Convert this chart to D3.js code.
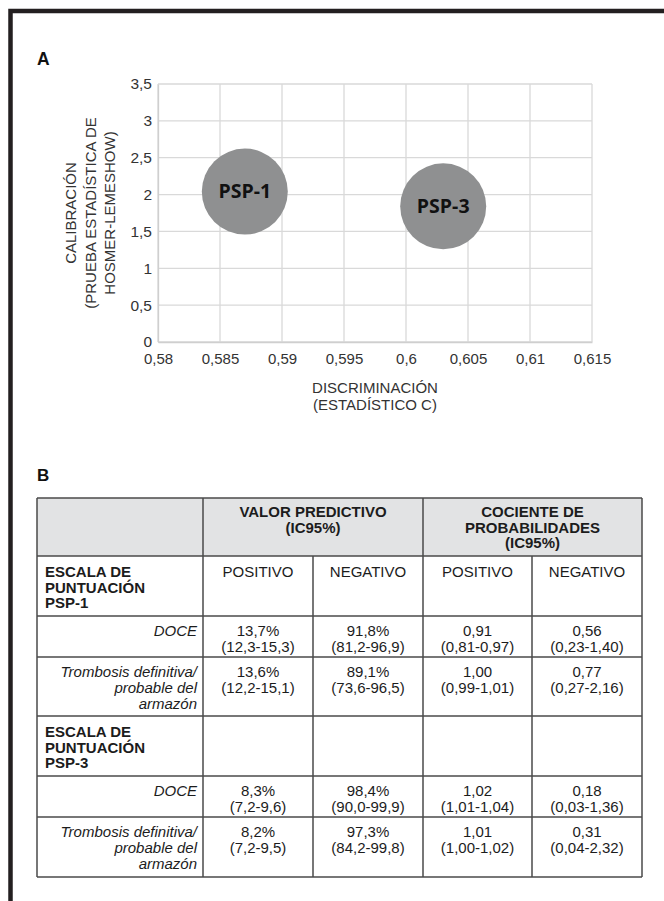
<!DOCTYPE html>
<html>
<head>
<meta charset="utf-8">
<script src="https://cdn.jsdelivr.net/npm/d3@7/dist/d3.min.js"></script>
<style>
  html, body { margin: 0; padding: 0; background: #fff; }
  svg { display: block; font-family: "Liberation Sans", Arial, Helvetica, sans-serif; }
</style>
</head>
<body>
<div id="chart"></div>
<script>
// ---- Panel A: calibration vs discrimination ----
const models = ["PSP-1", "PSP-3"];
const discrimination = [0.587, 0.603];   // estadístico C
const calibration = [2.04, 1.84];        // prueba de Hosmer-Lemeshow
const xTicks = [0.58, 0.585, 0.59, 0.595, 0.6, 0.605, 0.61, 0.615];
const yTicks = [0, 0.5, 1, 1.5, 2, 2.5, 3, 3.5];
const yTitle = ["CALIBRACIÓN", "(PRUEBA ESTADÍSTICA DE", "HOSMER-LEMESHOW)"];
const xTitle = ["DISCRIMINACIÓN", "(ESTADÍSTICO C)"];

// ---- Panel B: predictive values and likelihood ratios ----
const groupHeaders = [["VALOR PREDICTIVO", "(IC95%)"], ["COCIENTE DE", "PROBABILIDADES", "(IC95%)"]];
const subHeaders = ["POSITIVO", "NEGATIVO", "POSITIVO", "NEGATIVO"];
const scaleLabels = [["ESCALA DE", "PUNTUACIÓN", "PSP-1"], ["ESCALA DE", "PUNTUACIÓN", "PSP-3"]];
const outcomeLabels = [["DOCE"], ["Trombosis definitiva/", "probable del", "armazón"]];
const psp1Doce = [["13,7%", "(12,3-15,3)"], ["91,8%", "(81,2-96,9)"], ["0,91", "(0,81-0,97)"], ["0,56", "(0,23-1,40)"]];
const psp1Trombosis = [["13,6%", "(12,2-15,1)"], ["89,1%", "(73,6-96,5)"], ["1,00", "(0,99-1,01)"], ["0,77", "(0,27-2,16)"]];
const psp3Doce = [["8,3%", "(7,2-9,6)"], ["98,4%", "(90,0-99,9)"], ["1,02", "(1,01-1,04)"], ["0,18", "(0,03-1,36)"]];
const psp3Trombosis = [["8,2%", "(7,2-9,5)"], ["97,3%", "(84,2-99,8)"], ["1,01", "(1,00-1,02)"], ["0,31", "(0,04-2,32)"]];

const W = 664, H = 901;
const svg = d3.select("#chart").append("svg").attr("width", W).attr("height", H);
svg.append("rect").attr("width", W).attr("height", H).attr("fill", "#fff");

// outer frame (left and top edges)
svg.append("path").attr("d", `M10.5,${H} V11 H${W}`)
  .attr("fill", "none").attr("stroke", "#231f20").attr("stroke-width", 4.5);

svg.append("text").attr("x", 37).attr("y", 65).text("A")
  .attr("font-size", 17.5).attr("font-weight", "bold").attr("fill", "#111");

// ---- Scatter / bubble plot ----
const plot = { left: 158, right: 592, top: 84, bottom: 342 };
const fmt = v => String(+v.toFixed(3)).replace(".", ",");
const x = d3.scaleLinear().domain([0.58, 0.615]).range([plot.left, plot.right]);
const y = d3.scaleLinear().domain([0, 3.5]).range([plot.bottom, plot.top]);

const grid = svg.append("g").attr("stroke", "#d9d9d9").attr("stroke-width", 1.3);
grid.selectAll("line.v").data(xTicks).join("line").attr("class", "v")
  .attr("x1", d => x(d)).attr("x2", d => x(d)).attr("y1", plot.top).attr("y2", plot.bottom);
grid.selectAll("line.h").data(yTicks).join("line").attr("class", "h")
  .attr("x1", plot.left).attr("x2", plot.right).attr("y1", d => y(d)).attr("y2", d => y(d));

const xAxis = d3.axisBottom(x).tickValues(xTicks).tickFormat(fmt).tickSize(0).tickPadding(11);
const gx = svg.append("g").attr("transform", `translate(0,${plot.bottom})`).call(xAxis);
gx.select(".domain").attr("stroke", "#cfcfcf").attr("stroke-width", 1.3);
gx.selectAll("text").attr("font-size", 15).attr("fill", "#333").attr("font-family", "Liberation Sans, Arial, sans-serif");

const yAxis = d3.axisLeft(y).tickValues(yTicks).tickFormat(fmt).tickSize(0).tickPadding(6);
const gy = svg.append("g").attr("transform", `translate(${plot.left},0)`).call(yAxis);
gy.select(".domain").attr("stroke", "#cfcfcf").attr("stroke-width", 1.3);
gy.selectAll("text").attr("font-size", 15.5).attr("fill", "#333").attr("font-family", "Liberation Sans, Arial, sans-serif");

// axis titles
const yt = svg.append("text")
  .attr("transform", `translate(76,${(plot.top + plot.bottom) / 2}) rotate(-90)`)
  .attr("text-anchor", "middle").attr("font-size", 15).attr("fill", "#333");
yTitle.forEach((t, i) => yt.append("tspan").attr("x", 0).attr("y", i * 19.5).text(t));

const xt = svg.append("text").attr("text-anchor", "middle").attr("font-size", 15).attr("fill", "#333");
xTitle.forEach((t, i) => xt.append("tspan").attr("x", (plot.left + plot.right) / 2).attr("y", 393 + i * 17).text(t));

// bubbles
const pts = models.map((m, i) => ({ name: m, cx: discrimination[i], cy: calibration[i] }));
const bubbles = svg.append("g").selectAll("g").data(pts).join("g")
  .attr("transform", d => `translate(${x(d.cx)},${y(d.cy)})`);
bubbles.append("circle").attr("r", 43).attr("fill", "#8f9091");
bubbles.append("text").text(d => d.name)
  .attr("text-anchor", "middle").attr("dy", "0.35em")
  .attr("font-family", "'Open Sans', 'Noto Sans', sans-serif")
  .attr("font-weight", 700).attr("font-size", 19.5).attr("fill", "#111");

// ---- Table ----
svg.append("text").attr("x", 37).attr("y", 481).text("B")
  .attr("font-size", 17).attr("font-weight", "bold").attr("fill", "#111");

const colX = [37, 203, 313, 423, 532, 642];
const rowY = [498, 556, 616, 657, 716, 776, 817, 877];
const table = svg.append("g");
const fs = 15, ink = "#1c1c1c", lineStroke = "#4a4a4a";

// header background
table.append("rect").attr("x", colX[0]).attr("y", rowY[0])
  .attr("width", colX[5] - colX[0]).attr("height", rowY[1] - rowY[0]).attr("fill", "#e2e3e4");

function lines(g, arr, xPos, y0, step, anchor, opts = {}) {
  const t = g.append("text").attr("text-anchor", anchor).attr("font-size", fs).attr("fill", ink)
    .attr("font-weight", opts.bold ? "bold" : null).attr("font-style", opts.italic ? "italic" : null);
  arr.forEach((s, i) => t.append("tspan").attr("x", xPos).attr("y", y0 + i * step).text(s));
}

// group headers
lines(table, groupHeaders[0], (colX[1] + colX[3]) / 2, rowY[0] + 19, 15.5, "middle", { bold: true });
lines(table, groupHeaders[1], (colX[3] + colX[5]) / 2, rowY[0] + 19, 15.5, "middle", { bold: true });

// body rows
const body = [
  { kind: "scale", label: scaleLabels[0], cells: subHeaders.map(s => [s]) },
  { kind: "outcome", label: outcomeLabels[0], cells: psp1Doce },
  { kind: "outcome", label: outcomeLabels[1], cells: psp1Trombosis },
  { kind: "scale", label: scaleLabels[1], cells: [] },
  { kind: "outcome", label: outcomeLabels[0], cells: psp3Doce },
  { kind: "outcome", label: outcomeLabels[1], cells: psp3Trombosis }
];
body.forEach((r, i) => {
  const top = rowY[i + 1];
  if (r.kind === "scale") {
    lines(table, r.label, 45, top + 21, 15.5, "start", { bold: true });
  } else {
    lines(table, r.label, 197, top + 20, 16, "end", { italic: true });
  }
  r.cells.forEach((c, j) => {
    lines(table, c, (colX[j + 1] + colX[j + 2]) / 2, top + (r.kind === "scale" ? 21 : 20), 16, "middle");
  });
});

// grid lines of the table
const tl = table.append("g").attr("stroke", lineStroke).attr("stroke-width", 1.5).attr("fill", "none");
rowY.forEach(yy => tl.append("line").attr("x1", colX[0]).attr("x2", colX[5]).attr("y1", yy).attr("y2", yy));
colX.forEach((xx, k) => {
  const y1 = (k === 2 || k === 4) ? rowY[1] : rowY[0];
  tl.append("line").attr("x1", xx).attr("x2", xx).attr("y1", y1).attr("y2", rowY[7]);
});
</script>
</body>
</html>
